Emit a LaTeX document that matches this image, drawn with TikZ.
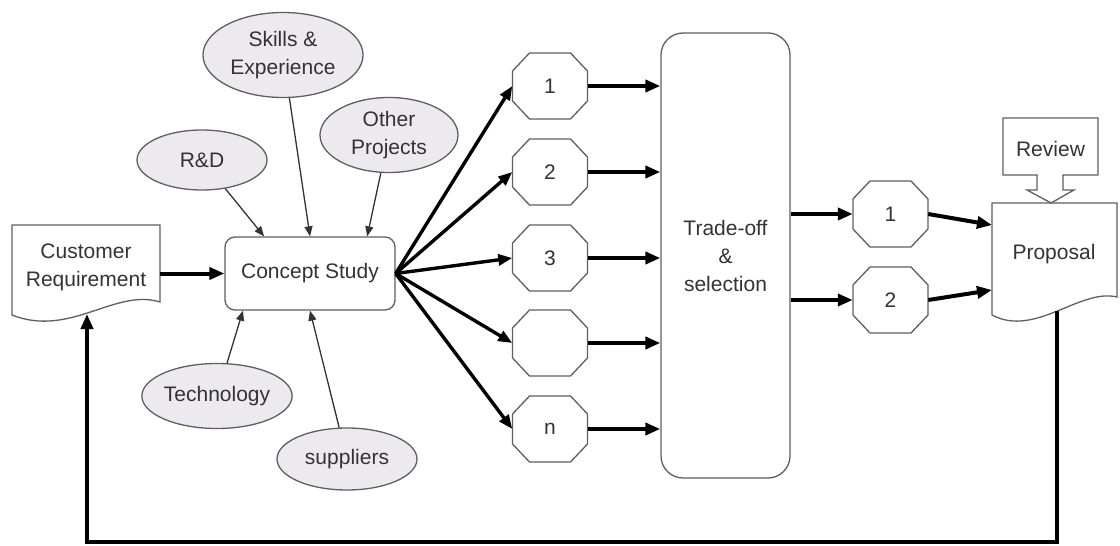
\documentclass[tikz,border=0pt]{standalone}
\usepackage{fontspec}
\setmainfont{Liberation Sans}
\usetikzlibrary{shapes.geometric,arrows.meta}

\begin{document}
\begin{tikzpicture}[x=1pt, y=-1pt,
    every node/.style={font=\fontsize{21}{28}\selectfont, text=black!80},
    boxline/.style={draw=shapeline, line width=1.3pt, fill=white},
    bubble/.style={ellipse, draw=shapeline, fill=bubblefill, line width=1.3pt, inner sep=0pt, align=center},
    octnode/.style={minimum width=75pt, minimum height=66pt, inner sep=0pt},
    thinarrow/.style={-{Triangle[length=10pt,width=8pt]}, line width=1.3pt, draw=black!80},
    fanarrow/.style={-{Triangle[length=14pt,width=11pt]}, line width=3.4pt},
    fatarrow/.style={-{Triangle[length=15pt,width=12pt]}, line width=4pt}]
    % Define colors
    \definecolor{shapeline}{RGB}{95,95,95}
    \definecolor{bubblefill}{RGB}{236,234,239}

    \useasboundingbox (0,0) rectangle (1120,546);

    % Customer requirement document
    \draw[boxline] (12,315) -- (12,225) -- (160,225) -- (160,302) .. controls (115,288) and (70,338) .. cycle;
    \node[minimum width=148pt, align=center, inner sep=0pt] (cr) at (86,267) {Customer\\Requirement};
    \coordinate (cr in) at (87,314);

    % Concept study and its inputs
    \node[boxline, rounded corners=10pt, minimum width=170pt, minimum height=73pt] (cs) at (310,273.5) {Concept Study};
    \node[bubble, minimum width=130pt, minimum height=60pt] (rd) at (202,160) {R\&D};
    \node[bubble, minimum width=160pt, minimum height=85pt] (sk) at (283,55) {Skills \&\\Experience};
    \node[bubble, minimum width=138pt, minimum height=75pt] (op) at (389,135) {Other\\Projects};
    \node[bubble, minimum width=140pt, minimum height=65pt] (tech) at (217,396) {Technology};
    \node[bubble, minimum width=140pt, minimum height=62pt] (sup) at (347,459) {suppliers};

    \draw[thinarrow] (rd) -- (cs.141);
    \draw[thinarrow] (sk) -- (cs.north);
    \draw[thinarrow] (op) -- (cs.33);
    \draw[thinarrow] (tech) -- (cs.209);
    \draw[thinarrow] (sup) -- (cs.south);

    \draw[fatarrow] (cr.east |- cs.west) -- (cs.west);

    % Concepts
    \foreach \i/\y/\t in {1/86/1, 2/172/2, 3/258/3, 4/343/{}, 5/429/n} {
        \draw[boxline] (550,\y) ++(-20.5,-33) -- ++(41,0) -- ++(17,18) -- ++(0,30) -- ++(-17,18) -- ++(-41,0) -- ++(-17,-18) -- ++(0,-30) -- cycle;
        \node[octnode] (o\i) at (550,\y) {\t};
    }

    % Trade-off
    \node[boxline, rounded corners=22pt, minimum width=129pt, minimum height=445pt, align=center] (trade) at (725.5,255.5) {Trade-off\\\&\\selection};

    \foreach \i in {1,...,5} {
        \draw[fanarrow] (cs.east) -- (o\i.west);
        \draw[fatarrow] (o\i.east) -- (o\i.east -| trade.west);
    }

    % Selected concepts
    \foreach \i/\y in {1/214, 2/300} {
        \draw[boxline] (890.5,\y) ++(-20.5,-33) -- ++(41,0) -- ++(17,18) -- ++(0,30) -- ++(-17,18) -- ++(-41,0) -- ++(-17,-18) -- ++(0,-30) -- cycle;
        \node[octnode] (p\i) at (890.5,\y) {\i};
        \draw[fatarrow] (trade.east |- p\i) -- (p\i.west);
    }

    % Proposal document with review
    \draw[boxline] (992,315) -- (992,203) -- (1117,203) -- (1117,297) .. controls (1080,288) and (1035,338) .. cycle;
    \node (prop) at (1054,254) {Proposal};
    \coordinate (prop in1) at (992,225);
    \coordinate (prop in2) at (992,290);
    \coordinate (prop out) at (1057,311);

    \draw[boxline] (1003,118) -- (1098,118) -- (1098,175) -- (1063,175) -- (1063,190) -- (1074,190) -- (1051,203) -- (1027,190) -- (1037,190) -- (1037,175) -- (1003,175) -- cycle;
    \node (rev) at (1050.5,149) {Review};

    \draw[fatarrow] (p1.east) -- (prop in1);
    \draw[fatarrow] (p2.east) -- (prop in2);

    % Feedback loop
    \draw[fatarrow] (prop out) -- ++(0,231) -| (cr in);
\end{tikzpicture}
\end{document}
